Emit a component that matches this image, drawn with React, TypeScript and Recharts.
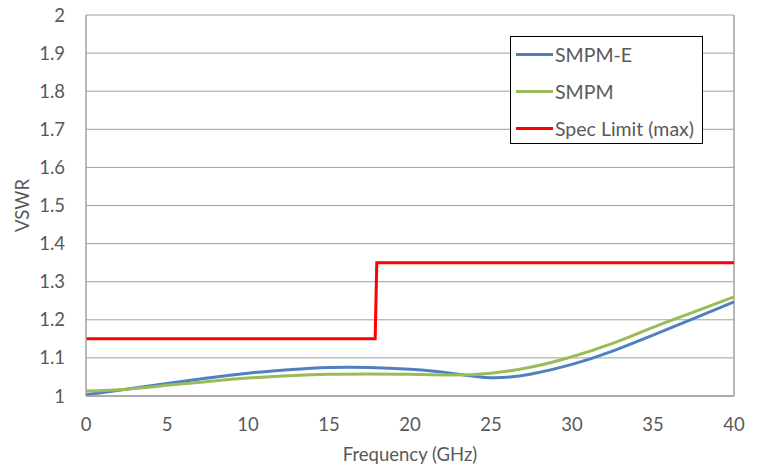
import React from 'react';
import { LineChart, Line, XAxis, YAxis, CartesianGrid, ReferenceLine } from 'recharts';

const freqs = [0, 2.5, 5, 7.5, 10, 12.5, 15, 17.5, 20, 22.5, 25, 27.5, 30, 32.5, 35, 37.5, 40];
const smpmE = [1.003, 1.018, 1.033, 1.047, 1.06, 1.069, 1.075, 1.075, 1.07, 1.06, 1.048, 1.058, 1.083, 1.118, 1.16, 1.203, 1.247];
const smpm = [1.013, 1.018, 1.028, 1.038, 1.047, 1.053, 1.057, 1.058, 1.057, 1.055, 1.06, 1.076, 1.103, 1.138, 1.18, 1.22, 1.26];
const specFreqs = [0, 17.85, 17.95, 40];
const specVals = [1.15, 1.15, 1.35, 1.35];
const xTicks = [0, 5, 10, 15, 20, 25, 30, 35, 40];
const yTicks = [1, 1.1, 1.2, 1.3, 1.4, 1.5, 1.6, 1.7, 1.8, 1.9, 2];
const seriesNames = ['SMPM-E', 'SMPM', 'Spec Limit (max)'];
const seriesColors = ['#4f81bd', '#9bbb59', '#ff0000'];

const curveData = freqs.map((f, i) => ({ f, e: smpmE[i], m: smpm[i] }));
const specData = specFreqs.map((f, i) => ({ f, s: specVals[i] }));

const FONT = 'Lato, "Open Sans", sans-serif';
const TXT = '#595959';
const TICK = 18.5;

export default function App() {
  return (
    <div style={{ position: 'absolute', left: 0, top: 0, width: 758, height: 469, background: '#fff' }}>
      <LineChart width={758} height={469} margin={{ top: 15, right: 24, left: 0, bottom: 0 }}>
        <CartesianGrid horizontal={true} vertical={false} stroke="#a0a0a0" strokeWidth={1} />
        <XAxis
          type="number"
          dataKey="f"
          domain={[0, 40]}
          ticks={xTicks}
          allowDuplicatedCategory={false}
          height={73}
          tickLine={false}
          tickSize={0}
          tickMargin={22}
          stroke="#a0a0a0"
          strokeWidth={1.5}
          tick={{ fill: TXT, fontSize: TICK, fontFamily: FONT }}
          label={{ value: 'Frequency (GHz)', position: 'insideBottom', offset: 8, fill: TXT, fontSize: TICK, fontFamily: FONT }}
        />
        <YAxis
          type="number"
          domain={[1, 2]}
          ticks={yTicks}
          width={86}
          tickLine={false}
          tickSize={0}
          tickMargin={21}
          stroke="#a0a0a0"
          strokeWidth={1.5}
          tick={{ fill: TXT, fontSize: TICK, fontFamily: FONT }}
          label={{ value: 'VSWR', angle: -90, position: 'insideLeft', offset: 22, fill: TXT, fontSize: TICK, fontFamily: FONT, style: { textAnchor: 'middle' } }}
        />
        <ReferenceLine x={40} stroke="#a0a0a0" strokeWidth={1.5} />
        <Line data={curveData} dataKey="e" name={seriesNames[0]} type="natural" stroke={seriesColors[0]} strokeWidth={3} dot={false} isAnimationActive={false} />
        <Line data={curveData} dataKey="m" name={seriesNames[1]} type="natural" stroke={seriesColors[1]} strokeWidth={3} dot={false} isAnimationActive={false} />
        <Line data={specData} dataKey="s" name={seriesNames[2]} type="linear" stroke={seriesColors[2]} strokeWidth={3} dot={false} isAnimationActive={false} />
      </LineChart>
      <div style={{ position: 'absolute', left: 510, top: 36, width: 193, height: 108, border: '1px solid #000', background: '#fff', boxSizing: 'border-box', fontFamily: FONT, fontSize: 19.5, color: TXT }}>
        {seriesNames.map((n, i) => (
          <div key={i} style={{ position: 'absolute', left: 5, top: 4 + i * 37, height: 26, display: 'flex', alignItems: 'center', whiteSpace: 'nowrap' }}>
            <div style={{ width: 37, height: 3, background: seriesColors[i], marginRight: 2 }} />
            <span>{n}</span>
          </div>
        ))}
      </div>
    </div>
  );
}
